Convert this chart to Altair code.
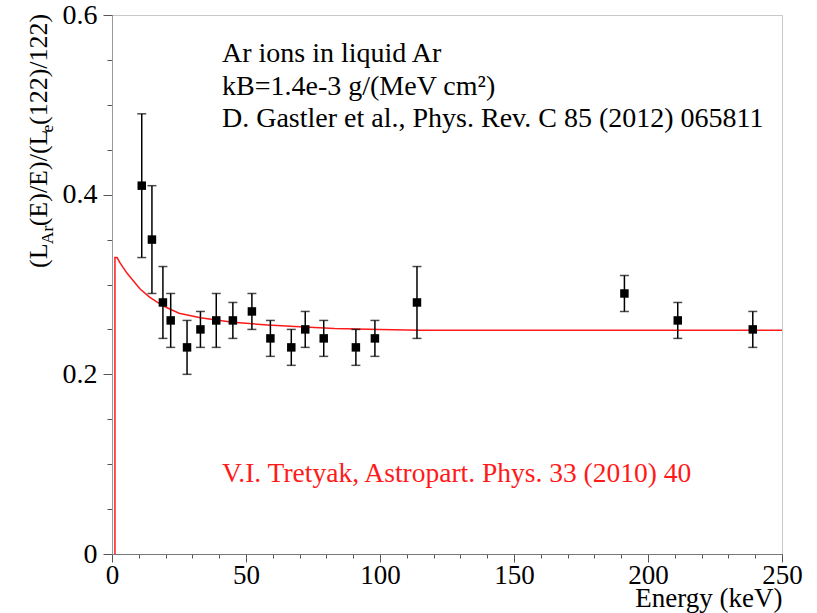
import altair as alt
import pandas as pd

# ---- data ----
energy = [11.1, 14.9, 19.0, 21.9, 28.0, 33.0, 38.9, 45.1, 52.2, 59.1, 66.9,
          72.1, 79.0, 91.0, 98.1, 113.8, 191.2, 211.1, 239.1]
ratio = [0.41, 0.35, 0.28, 0.26, 0.23, 0.25, 0.26, 0.26, 0.27, 0.24, 0.23,
         0.25, 0.24, 0.23, 0.24, 0.28, 0.29, 0.26, 0.25]
err = [0.08, 0.06, 0.04, 0.03, 0.03, 0.02, 0.03, 0.02, 0.02, 0.02, 0.02,
       0.02, 0.02, 0.02, 0.02, 0.04, 0.02, 0.02, 0.02]

curve_e = [1.1, 1.1, 1.9, 3.0, 5.5, 8.0, 10.5, 14.0, 17.0, 20.0, 25.0, 33.0,
           45.0, 58.0, 70.0, 83.0, 100.0, 115.0, 150.0, 200.0, 250.0]
curve_l = [0.0, 0.330, 0.330, 0.324, 0.313, 0.304, 0.295, 0.286, 0.280, 0.275,
           0.268, 0.263, 0.258, 0.255, 0.253, 0.251, 0.250, 0.249, 0.249,
           0.249, 0.249]

x_major = [0, 50, 100, 150, 200, 250]
x_minor = [0, 10, 20, 30, 40, 50, 60, 70, 80, 90, 100, 110, 120, 130, 140,
           150, 160, 170, 180, 190, 200, 210, 220, 230, 240, 250]
y_major = [0, 0.2, 0.4, 0.6]
y_minor = [0, 0.05, 0.1, 0.15, 0.2, 0.25, 0.3, 0.35, 0.4, 0.45, 0.5, 0.55, 0.6]

FONT = "Liberation Serif"
RED = "#ff1a1a"

pts = pd.DataFrame({"E": energy, "R": ratio, "err": err})
pts["lo"] = pts["R"] - pts["err"]
pts["hi"] = pts["R"] + pts["err"]
curve = pd.DataFrame({"E": curve_e, "L": curve_l, "i": list(range(len(curve_e)))})

xscale = alt.Scale(domain=[0, 250], nice=False, zero=False)
yscale = alt.Scale(domain=[0, 0.6], nice=False, zero=False)

x_major_axis = alt.Axis(
    orient="bottom", values=x_major, grid=False, labelOverlap=False,
    labelFlush=False, format="d", tickSize=8, labelPadding=0,
    labelFont=FONT, labelFontSize=27, labelColor="black",
    domainColor="#777777", tickColor="#555555",
    title="Energy (keV)", titleFont=FONT, titleFontSize=27,
    titleFontWeight="normal", titleColor="black",
    titleAnchor="end", titleAlign="right", titleX=670, titleY=52,
    titleBaseline="alphabetic",
)
x_minor_axis = alt.Axis(
    orient="bottom", values=x_minor, grid=False, labels=False, domain=False,
    tickSize=4, tickColor="#555555", title=None,
)
y_major_axis = alt.Axis(
    orient="left", values=y_major, grid=False, labelOverlap=False,
    labelExpr="datum.value == 0 ? '0' : format(datum.value, '.1f')",
    tickSize=9, labelPadding=6, labelFont=FONT, labelFontSize=28,
    labelColor="black", domainColor="#999999", tickColor="#555555",
    title=None,
)
y_minor_axis = alt.Axis(
    orient="left", values=y_minor, grid=False, labels=False, domain=False,
    tickSize=5, tickColor="#555555", title=None,
)

base = alt.Chart(pts)

bars = base.mark_rule(color="black", strokeWidth=1.5).encode(
    x=alt.X("E:Q", scale=xscale, axis=x_major_axis),
    y=alt.Y("lo:Q", scale=yscale, axis=y_major_axis),
    y2="hi:Q",
)
cap_lo = base.mark_tick(color="black", orient="horizontal", size=9, thickness=1.5).encode(
    x=alt.X("E:Q", axis=None), y=alt.Y("lo:Q", axis=None))
cap_hi = base.mark_tick(color="black", orient="horizontal", size=9, thickness=1.5).encode(
    x=alt.X("E:Q", axis=None), y=alt.Y("hi:Q", axis=None))
squares = base.mark_square(size=72, color="black", opacity=1, filled=True).encode(
    x=alt.X("E:Q", axis=None), y=alt.Y("R:Q", axis=None))

line = alt.Chart(curve).mark_line(color=RED, strokeWidth=1.5).encode(
    x=alt.X("E:Q", scale=xscale, axis=x_minor_axis),
    y=alt.Y("L:Q", scale=yscale, axis=y_minor_axis),
    order="i:Q",
)

one = pd.DataFrame({"a": [0]})


def label(text, x, y, size, color="black", angle=0, align="left", baseline="alphabetic"):
    kw = dict(text=text, font=FONT, fontSize=size, color=color,
              align=align, baseline=baseline)
    if angle:
        kw["angle"] = angle
    return alt.Chart(one).mark_text(**kw).encode(x=alt.value(x), y=alt.value(y))


# annotations (pixel offsets relative to plot origin)
notes = [
    label("Ar ions in liquid Ar", 110, 47, 28),
    label("kB=1.4e-3 g/(MeV cm²)", 110, 80, 28),
    label("D. Gastler et al., Phys. Rev. C 85 (2012) 065811", 110, 112, 28),
    label("V.I. Tretyak, Astropart. Phys. 33 (2010) 40", 110, 467, 27.5, color=RED),
]

# y-axis title with subscripts, rotated
ytitle = [
    label("(L", -65, 253, 26, angle=270),
    label("Ar", -59, 229.2, 17.5, angle=270),
    label("(E)/E)/(L", -65, 211.3, 26, angle=270),
    label("e", -59, 117.5, 17.5, angle=270),
    label("(122)/122)", -65, 110.0, 26, angle=270),
]

chart = alt.layer(line, bars, cap_lo, cap_hi, squares, *notes, *ytitle).resolve_axis(
    x="independent", y="independent"
).properties(
    width=670, height=539,
    padding={"left": 112, "top": 15, "right": 35, "bottom": 59},
    autosize=alt.AutoSizeParams(type="none"),
    background="white",
).configure_view(stroke="#c8c8c8", strokeWidth=1)

chart.save("out.html", embed_options={"renderer": "svg", "actions": False})
